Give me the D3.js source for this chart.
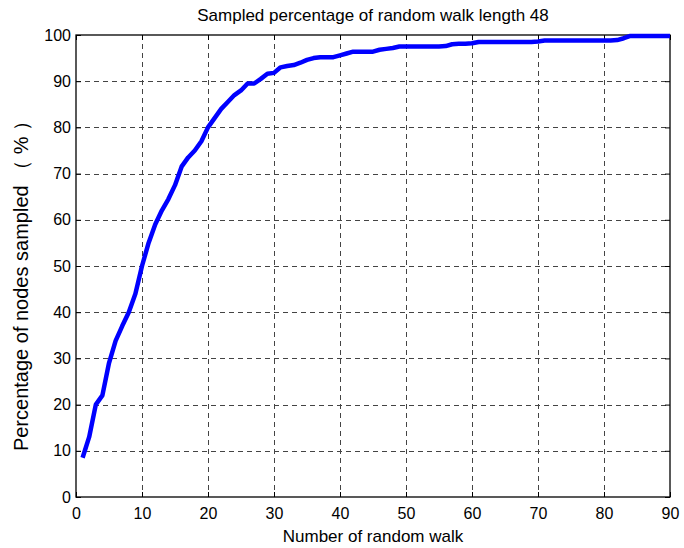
<!DOCTYPE html>
<html><head><meta charset="utf-8">
<script src="https://cdn.jsdelivr.net/npm/d3@7/dist/d3.min.js"></script>
<style>body{margin:0;background:#fff}svg{display:block}text{font-family:"Liberation Sans",Arial,sans-serif;fill:#000}</style>
</head><body><svg id="c" width="684" height="548"></svg>
<script>
const xValues = [1,2,3,4,5,6,7,8,9,10,11,12,13,14,15,16,17,18,19,20,21,22,23,24,25,26,27,28,29,30,31,32,33,34,35,36,37,38,39,40,41,42,43,44,45,46,47,48,49,50,51,52,53,54,55,56,57,58,59,60,61,62,63,64,65,66,67,68,69,70,71,72,73,74,75,76,77,78,79,80,81,82,83,84,85,86,87,88,89,90];
const yValues = [8.5,13,20,22,29,33.8,37,40,44,50,55,59,62,64.5,67.5,71.5,73.5,75,77,80,82,84,85.5,87,88,89.5,89.5,90.5,91.6,91.8,93,93.3,93.5,94,94.6,95,95.2,95.2,95.2,95.6,96,96.4,96.4,96.4,96.4,96.8,97,97.2,97.5,97.5,97.5,97.5,97.5,97.5,97.5,97.6,98,98.1,98.1,98.2,98.5,98.5,98.5,98.5,98.5,98.5,98.5,98.5,98.5,98.6,98.8,98.8,98.8,98.8,98.8,98.8,98.8,98.8,98.8,98.8,98.8,98.9,99.3,99.8,99.8,99.8,99.8,99.8,99.8,99.8];
const xTicks = [0,10,20,30,40,50,60,70,80,90];
const yTicks = [0,10,20,30,40,50,60,70,80,90,100];
const title = "Sampled percentage of random walk length 48";
const xLabel = "Number of random walk";
const yLabel = "Percentage of nodes sampled （ % ）";

const L=76, R=670, T=35, B=497;
const svg = d3.select("#c");
const x = d3.scaleLinear().domain([0,90]).range([L,R]);
const y = d3.scaleLinear().domain([0,100]).range([B,T]);

// grid
const g = svg.append("g");
g.selectAll(".gx").data(xTicks.slice(1,-1)).join("line")
  .attr("x1",d=>Math.round(x(d))+0.5).attr("x2",d=>Math.round(x(d))+0.5).attr("y1",T).attr("y2",B)
  .attr("stroke","#444").attr("stroke-width",1).attr("stroke-dasharray","5,4");
g.selectAll(".gy").data(yTicks.slice(1,-1)).join("line")
  .attr("y1",d=>Math.round(y(d))+0.5).attr("y2",d=>Math.round(y(d))+0.5).attr("x1",L).attr("x2",R)
  .attr("stroke","#444").attr("stroke-width",1).attr("stroke-dasharray","5,4");

// axes (inward ticks, all sides)
const ax = d3.axisBottom(x).tickValues(xTicks).tickSize(-5).tickPadding(11).tickSizeOuter(0);
const ay = d3.axisLeft(y).tickValues(yTicks).tickSize(-5).tickPadding(5).tickSizeOuter(0);
const axT = d3.axisTop(x).tickValues(xTicks).tickSize(-5).tickFormat("").tickSizeOuter(0);
const ayR = d3.axisRight(y).tickValues(yTicks).tickSize(-5).tickFormat("").tickSizeOuter(0);
function style(sel){sel.selectAll("path").remove();sel.selectAll("line").attr("stroke","#000");sel.selectAll("text").style("font-size","16px").style("font-family",'"Liberation Sans",Arial,sans-serif').attr("fill","#000");}
svg.append("g").attr("transform",`translate(0,${B})`).call(ax).call(style);
svg.append("g").attr("transform",`translate(${L},0)`).call(ay).call(style);
svg.append("g").attr("transform",`translate(0,${T})`).call(axT).call(style);
svg.append("g").attr("transform",`translate(${R},0)`).call(ayR).call(style);

svg.append("rect").attr("x",L).attr("y",T).attr("width",R-L).attr("height",B-T)
  .attr("fill","none").attr("stroke","#000").attr("stroke-width",1.3);

// line
const line = d3.line().x((d,i)=>x(xValues[i])).y(d=>y(d));
svg.append("path").datum(yValues).attr("d",line).attr("fill","none")
  .attr("stroke","#0000ff").attr("stroke-width",4.5).attr("stroke-linejoin","round").attr("stroke-linecap","butt");

svg.append("text").attr("x",(L+R)/2).attr("y",21).attr("text-anchor","middle").style("font-size","17px").text(title);
svg.append("text").attr("x",(L+R)/2).attr("y",542).attr("text-anchor","middle").style("font-size","17px").text(xLabel);
svg.append("text").attr("transform",`translate(28,281) rotate(-90)`).attr("text-anchor","middle").style("font-size","20px").text(yLabel);
</script></body></html>
